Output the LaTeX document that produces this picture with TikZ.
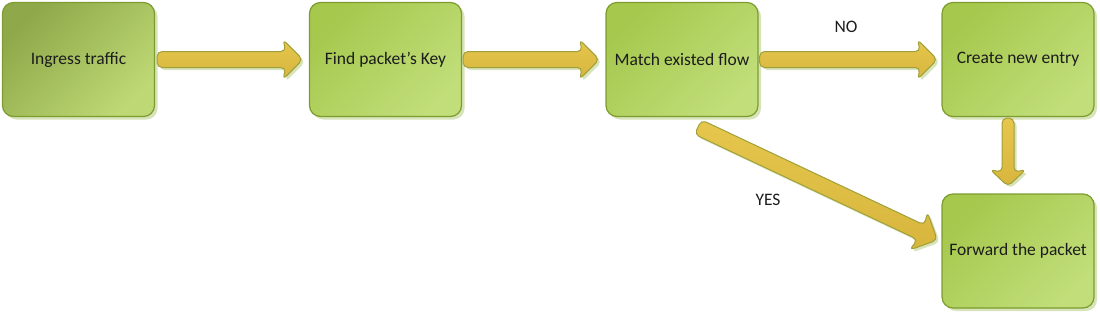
\documentclass[tikz,border=0pt]{standalone}
\usepackage{fontspec}
\setmainfont{Carlito}
\usetikzlibrary{calc,shadows}
\definecolor{bord}{HTML}{7C9C2F}
\definecolor{gA}{HTML}{8FA94A}
\definecolor{gB}{HTML}{BDD874}
\definecolor{gC}{HTML}{A6C84D}
\definecolor{gD}{HTML}{C1DE7A}
\definecolor{shd}{HTML}{D7E3B8}
\definecolor{arrA}{HTML}{E6C64C}
\definecolor{arrB}{HTML}{D8B63E}
\definecolor{arrbord}{HTML}{9FA03A}
\definecolor{txt}{HTML}{1C1C1C}
\tikzset{
  box/.style={draw=bord, line width=1.2pt, rounded corners=11pt,
    minimum width=152pt, minimum height=114pt,
    top color=gC, bottom color=gD, shading angle=45,
    font=\fontsize{17.5}{20}\selectfont, text=txt,
    drop shadow={shadow xshift=3pt, shadow yshift=-3pt, fill=shd, opacity=1}},
  darkbox/.style={box, top color=gA, bottom color=gB, shading angle=45},
  arrowst/.style={draw=arrbord, line width=1pt, top color=arrA, bottom color=arrB,
    rounded corners=5pt,
    drop shadow={shadow xshift=2.5pt, shadow yshift=-2.5pt, fill=shd, opacity=1}},
  lbl/.style={font=\fontsize{17.5}{20}\selectfont, text=txt}
}
% #1 start, #2 tip, #3 shaft half width, #4 head half width, #5 head length
\newcommand\blockarrow[5]{%
  \draw[arrowst] let \p1=($(#2)-(#1)$), \n1={atan2(\y1,\x1)}, \n2={veclen(\x1,\y1)} in
    ($(#1)+(\n1+90:#3pt)$)
    -- ($(#1)+(\n1:\n2-#5pt)+(\n1+90:#3pt)$)
    -- ($(#1)+(\n1:\n2-#5pt-3pt)+(\n1+90:#4pt)$)
    -- (#2)
    -- ($(#1)+(\n1:\n2-#5pt-3pt)+(\n1-90:#4pt)$)
    -- ($(#1)+(\n1:\n2-#5pt)+(\n1-90:#3pt)$)
    -- ($(#1)+(\n1-90:#3pt)$) -- cycle;}
\begin{document}
\begin{tikzpicture}[x=1pt,y=-1pt]
\useasboundingbox (0,0) rectangle (1100,314);
\node[darkbox] (b1) at (78.5,59.5) {Ingress traffic};
\node[box] (b2) at (385.5,59.5) {Find packet’s Key};
\node[box] (b3) at (682,59.5) {Match existed flow};
\node[box] (b4) at (1018,59.5) {Create new entry};
\node[box] (b5) at (1018,251) {Forward the packet};

\coordinate (a1s) at ($(b1.east)+(2,0)$);
\coordinate (a1e) at ($(b2.west)+(-6,0)$);
\coordinate (a2s) at ($(b2.east)+(1,0)$);
\coordinate (a2e) at ($(b3.west)+(-6,0)$);
\coordinate (a3s) at ($(b3.east)+(1,0)$);
\coordinate (a3e) at ($(b4.west)+(-4,0)$);
\coordinate (a4s) at ($(b4.south)+(-10,1)$);
\coordinate (a4e) at ($(b5.north)+(-10,-7)$);
\coordinate (a5s) at ($(b3.south)+(16,10)$);
\coordinate (a5e) at ($(b5.west)+(-4,-11)$);

\blockarrow{a1s}{a1e}{8}{20}{17}
\blockarrow{a2s}{a2e}{8}{20}{17}
\blockarrow{a3s}{a3e}{8}{20}{17}
\blockarrow{a4s}{a4e}{6}{18}{14}
\blockarrow{a5s}{a5e}{8}{21}{18}

\node[lbl] (no) at (846,27) {NO};
\node[lbl] (yes) at (768,200) {YES};
\end{tikzpicture}
\end{document}
